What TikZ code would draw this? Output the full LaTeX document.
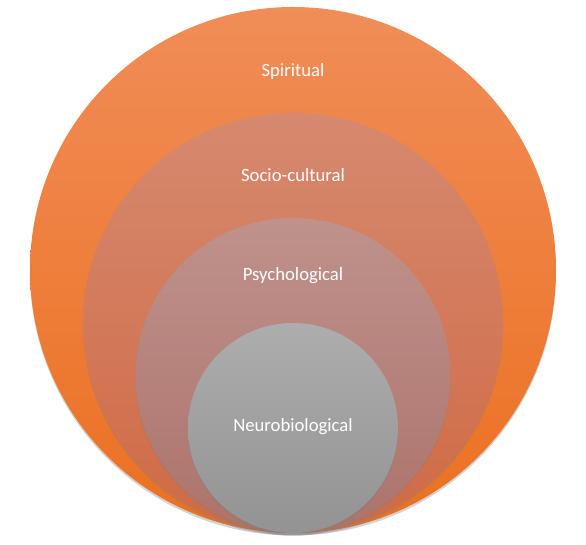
\documentclass[tikz,border=0pt]{standalone}
\usepackage{fontspec}
\setmainfont{Carlito}
\usepackage{tikz}
\usetikzlibrary{shadows}
\definecolor{spiritTop}{HTML}{F08D58}
\definecolor{spiritBot}{HTML}{EC7020}
\definecolor{socioTop}{HTML}{D6896F}
\definecolor{socioBot}{HTML}{CF6A45}
\definecolor{psychTop}{HTML}{BF928C}
\definecolor{psychBot}{HTML}{AC736B}
\definecolor{neuroTop}{HTML}{ADADAD}
\definecolor{neuroBot}{HTML}{939393}
\tikzset{
  ring/.style={
    shape = circle,
    inner sep = 0pt,
    draw = none,
    drop shadow={shadow xshift=0pt, shadow yshift=-2.5pt, opacity=0.35}
  },
  ringlabel/.style={
    text = white,
    inner sep = 2pt,
    font = \fontsize{18.7}{22}\selectfont
  }
}
\begin{document}
\begin{tikzpicture}[x=1pt,y=1pt]
  \useasboundingbox (0,0) rectangle (586,545);
  % nested circles, all touching at the bottom
  \node[ring, minimum size=526pt, top color=spiritTop, bottom color=spiritBot] (spiritual) at (293,275) {};
  \node[ring, minimum size=420pt, top color=socioTop, bottom color=socioBot] (socio) at (293,222) {};
  \node[ring, minimum size=315pt, top color=psychTop, bottom color=psychBot] (psych) at (293,169.5) {};
  \node[ring, minimum size=210pt, top color=neuroTop, bottom color=neuroBot] (neuro) at (293,117) {};

  \node[ringlabel] (spiritualtext) at (293,473) {Spiritual};
  \node[ringlabel] (sociotext) at (293,370) {Socio-cultural};
  \node[ringlabel] (psychtext) at (293,269) {Psychological};
  \node[ringlabel] (neurotext) at (293,118) {Neurobiological};
\end{tikzpicture}
\end{document}
